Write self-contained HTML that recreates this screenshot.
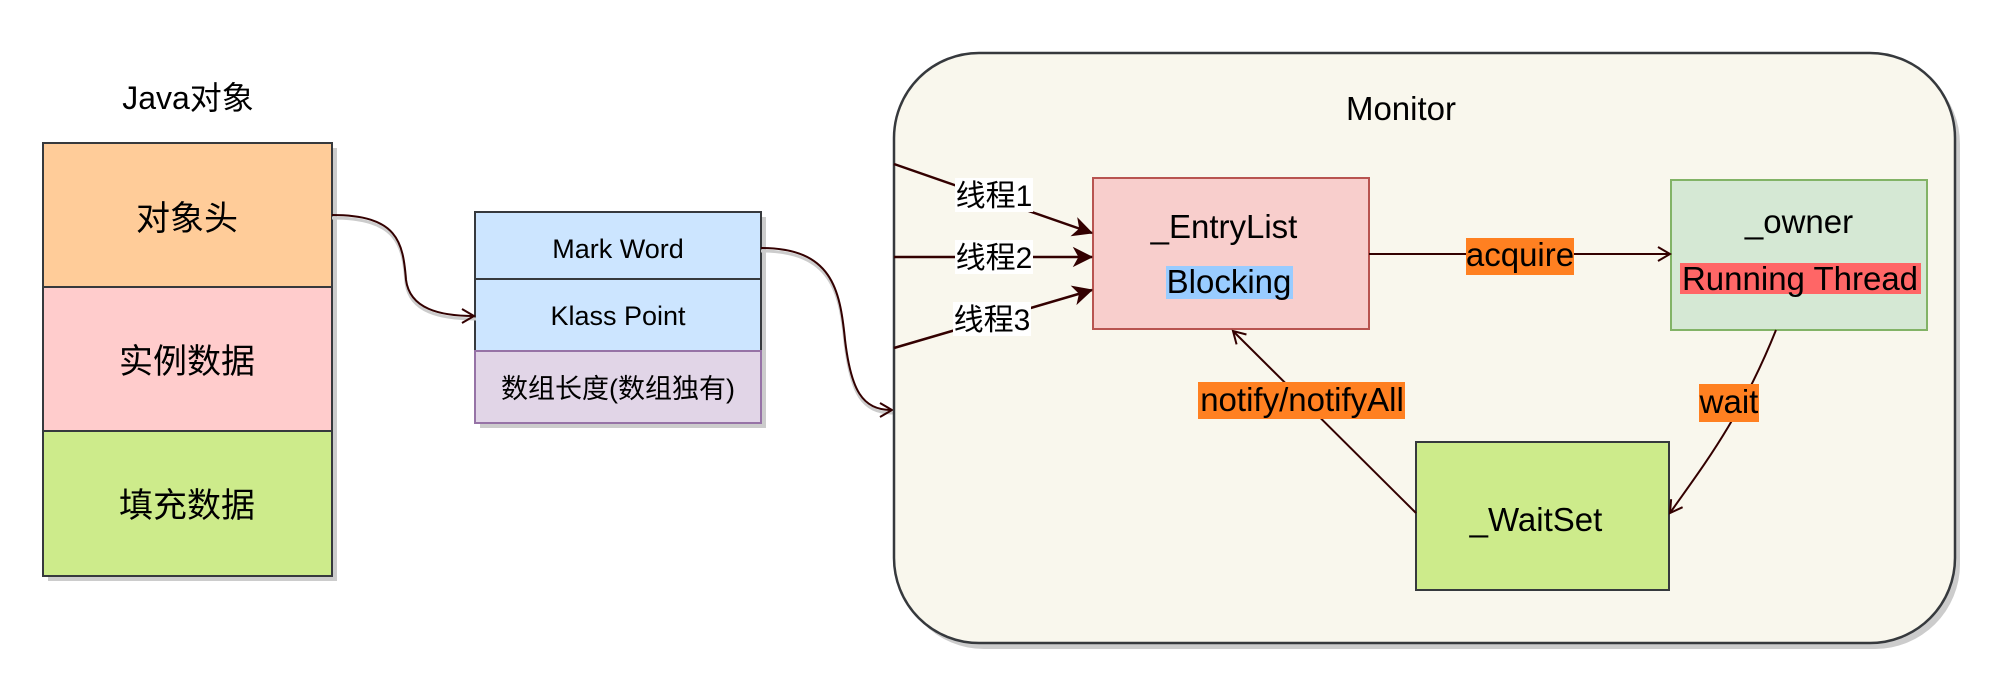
<!DOCTYPE html>
<html><head><meta charset="utf-8"><style>
html,body{margin:0;padding:0;background:#fff;}
svg{display:block;}
text{font-family:"Liberation Sans","Noto Sans CJK SC",sans-serif;fill:#000;}
</style></head><body>
<svg width="2000" height="690" viewBox="0 0 2000 690" xmlns="http://www.w3.org/2000/svg">
<defs>
<marker id="open" markerWidth="20" markerHeight="20" refX="15" refY="10" orient="auto" markerUnits="userSpaceOnUse">
<path d="M3,3 L15,10 L3,17" fill="none" stroke="#330000" stroke-width="2"/>
</marker>
<marker id="fill" markerWidth="24" markerHeight="24" refX="20" refY="12" orient="auto" markerUnits="userSpaceOnUse">
<path d="M2,3 L20,12 L2,21 L7,12 Z" fill="#330000" stroke="#330000" stroke-width="1"/>
</marker>
</defs>

<!-- Java object -->
<text x="188" y="109" font-size="32" text-anchor="middle">Java对象</text>
<g transform="translate(5,5)" fill="#ccc"><rect x="43" y="143" width="289" height="433"/></g>
<rect x="43" y="143" width="289" height="144" fill="#ffcc99" stroke="#36393d" stroke-width="2"/>
<rect x="43" y="287" width="289" height="144" fill="#ffcccc" stroke="#36393d" stroke-width="2"/>
<rect x="43" y="431" width="289" height="145" fill="#cdeb8b" stroke="#36393d" stroke-width="2"/>
<text x="187" y="230" font-size="34" text-anchor="middle">对象头</text>
<text x="187" y="373" font-size="34" text-anchor="middle">实例数据</text>
<text x="187" y="517" font-size="34" text-anchor="middle">填充数据</text>

<!-- middle stack -->
<rect x="480" y="217" width="286" height="211" fill="#ccc"/>
<rect x="475" y="212" width="286" height="67" fill="#cce5ff" stroke="#36393d" stroke-width="2"/>
<rect x="475" y="279" width="286" height="72" fill="#cce5ff" stroke="#36393d" stroke-width="2"/>
<rect x="475" y="351" width="286" height="72" fill="#e1d5e7" stroke="#9673a6" stroke-width="2"/>
<text x="618" y="258" font-size="27" text-anchor="middle">Mark Word</text>
<text x="618" y="325" font-size="27" text-anchor="middle">Klass Point</text>
<text x="618" y="398" font-size="27" text-anchor="middle">数组长度(数组独有)</text>

<!-- curves -->
<path d="M332,218 C398,218 403,245 406,283 C410,312 440,319 476,319" fill="none" stroke="#ccc" stroke-width="3"/>
<path d="M332,215 C398,215 403,242 406,280 C410,309 440,316 474,316" fill="none" stroke="#330000" stroke-width="2" marker-end="url(#open)"/>
<path d="M761,251 C832,251 840,292 845,343 C851,393 862,413 893,413" fill="none" stroke="#ccc" stroke-width="3"/>
<path d="M761,248 C832,248 840,289 845,340 C851,390 862,410 892,410" fill="none" stroke="#330000" stroke-width="2" marker-end="url(#open)"/>

<!-- Monitor -->
<rect x="899" y="59" width="1061" height="590" rx="85" ry="85" fill="#ccc"/>
<rect x="894" y="53" width="1061" height="590" rx="85" ry="85" fill="#f9f7ed" stroke="#36393d" stroke-width="2.5"/>
<text x="1401" y="120" font-size="33" text-anchor="middle">Monitor</text>

<!-- EntryList -->
<rect x="1093" y="178" width="276" height="151" fill="#f8cecc" stroke="#b85450" stroke-width="2"/>
<text x="1224" y="238" font-size="33" text-anchor="middle">_EntryList</text>
<rect x="1166" y="266" width="127" height="33" fill="#99ccff"/>
<text x="1229" y="293" font-size="33" text-anchor="middle">Blocking</text>

<!-- owner -->
<rect x="1671" y="180" width="256" height="150" fill="#d5e8d4" stroke="#82b366" stroke-width="2"/>
<text x="1799" y="233" font-size="33" text-anchor="middle">_owner</text>
<rect x="1680" y="263" width="241" height="31" fill="#ff6666"/>
<text x="1800" y="290" font-size="33" text-anchor="middle">Running Thread</text>

<!-- WaitSet -->
<rect x="1416" y="442" width="253" height="148" fill="#cdeb8b" stroke="#36393d" stroke-width="2"/>
<text x="1536" y="531" font-size="33" text-anchor="middle">_WaitSet</text>

<!-- thread arrows -->
<line x1="894" y1="164" x2="1092" y2="233" stroke="#330000" stroke-width="2.5" marker-end="url(#fill)"/>
<line x1="894" y1="257" x2="1092" y2="257" stroke="#330000" stroke-width="2.5" marker-end="url(#fill)"/>
<line x1="894" y1="348" x2="1092" y2="290" stroke="#330000" stroke-width="2.5" marker-end="url(#fill)"/>
<rect x="955" y="178" width="78" height="34" fill="#fff"/>
<text x="994" y="206" font-size="30" text-anchor="middle">线程1</text>
<rect x="955" y="240" width="78" height="34" fill="#fff"/>
<text x="994" y="268" font-size="30" text-anchor="middle">线程2</text>
<rect x="953" y="302" width="78" height="34" fill="#fff"/>
<text x="992" y="330" font-size="30" text-anchor="middle">线程3</text>

<!-- acquire -->
<line x1="1369" y1="254" x2="1670" y2="254" stroke="#330000" stroke-width="2" marker-end="url(#open)"/>
<rect x="1466" y="238" width="108" height="37" fill="#ff8021"/>
<text x="1520" y="266" font-size="33" text-anchor="middle">acquire</text>

<!-- notify -->
<line x1="1416" y1="513" x2="1233" y2="331" stroke="#330000" stroke-width="2" marker-end="url(#open)"/>
<rect x="1198" y="382" width="207" height="37" fill="#ff8021"/>
<text x="1302" y="411" font-size="33" text-anchor="middle">notify/notifyAll</text>

<!-- wait -->
<path d="M1776,330 C1740,420 1700,470 1670,513" fill="none" stroke="#330000" stroke-width="2" marker-end="url(#open)"/>
<rect x="1699" y="384" width="60" height="38" fill="#ff8021"/>
<text x="1729" y="413" font-size="33" text-anchor="middle">wait</text>
</svg>
</body></html>
